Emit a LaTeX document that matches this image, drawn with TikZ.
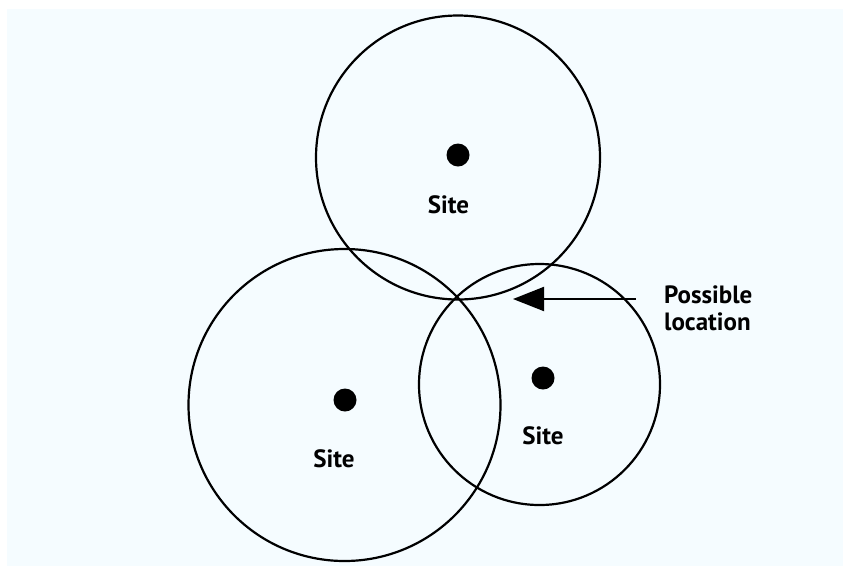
\documentclass[tikz,border=0pt]{standalone}
\usepackage{fontspec}
\setmainfont{PT Sans}
\usetikzlibrary{arrows.meta}
\definecolor{paper}{RGB}{245,252,255}

\tikzset{
    coverage/.style={draw, circle, line width=2.2pt, inner sep=0pt},
    site/.style={circle, fill=black, minimum size=23pt, inner sep=0pt},
    sitelabel/.style={anchor=base, inner sep=0pt,
        font=\fontsize{25}{27}\selectfont\bfseries},
    link/.style={-{Triangle[length=31pt, width=24pt]}, line width=2pt}
}

\begin{document}
\begin{tikzpicture}[x=1pt, y=-1pt]
    \useasboundingbox (0,0) rectangle (843,566);
    \fill[white] (0,0) rectangle (843,566);
    \fill[paper] (7,9) rectangle (843,566);
    % coverage of each site
    \node[coverage, minimum size=284pt] (top-range) at (458,157.5) {};
    \node[coverage, minimum size=312pt] (left-range) at (344.5,405) {};
    \node[coverage, minimum size=241pt] (right-range) at (539.5,384.5) {};
    % the sites
    \node[site] (top-site) at (458,155) {};
    \node[site] (left-site) at (345,400) {};
    \node[site] (right-site) at (543,378) {};
    \node[sitelabel] (top-label) at (448.5,213) {Site};
    \node[sitelabel] (left-label) at (334,467) {Site};
    \node[sitelabel] (right-label) at (543,444) {Site};
    % where the three ranges meet
    \node[sitelabel, anchor=base west, align=left] (location) at (664,330)
        {Possible\\location};
    \coordinate (tail) at (636,299);
    \coordinate (tip) at (513,299);
    \draw[link] (tail) -- (tip);
\end{tikzpicture}
\end{document}
